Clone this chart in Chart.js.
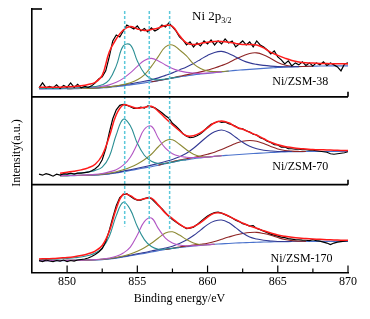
<!DOCTYPE html>
<html lang="en">
<head>
    <meta charset="UTF-8">
    <title>Ni 2p3/2 XPS</title>
    <script src="https://cdn.jsdelivr.net/npm/chart.js"></script>
    <style>
        body { margin: 0; background: #fff; }
        canvas { display: block; }
    </style>
</head>
<body>
    <canvas id="xps" width="370" height="319"></canvas>
    <script>
    // binding energy axis
    var xTickValues = [850, 855, 860, 865, 870];
    var xMinorTicks = [852.5, 857.5, 862.5, 867.5];
    var guideEnergies = [854.1, 855.85, 857.3];
    var guideEnds = [46, 48, 43];   // where the guides stop in the bottom panel
    var panelNames = ['Ni/ZSM-38', 'Ni/ZSM-70', 'Ni/ZSM-170'];

    // raw spectra, 848 -> 870 eV every 0.25 eV
    var p1Raw = [
        9, 14, 9, 10.5,  9, 12, 8.5, 11.5,  9.5, 14, 9.5, 12.5,  9, 10.5, 9.5, 11,
        14, 18, 20, 26,  40, 56, 62, 60,  66, 72, 70, 68,  71, 66, 68.5, 65,
        69, 66, 68, 72,  70, 74, 70, 66,  60, 57, 52, 55,  50, 54, 51, 56,
        53, 57, 52, 56,  53, 58, 54, 56,  50, 53, 56, 52,  55, 50, 56, 52,
        50, 47, 43, 46,  40, 37, 33, 36,  31, 34, 32, 35,  31.5, 34, 31, 34,
        32, 35, 31.5, 34,  32, 30, 26, 33,  34
    ];
    var p2Raw = [
        10.5, 9.5, 11, 10,  8.5, 10.5, 9.5, 11,  10.5, 11.5, 10.5, 11.5,  11.5, 12, 12.5, 14,
        16, 19, 25, 36,  52, 66, 75, 79.5,  80.5, 79.5, 78, 76.5,  76.5, 77.8, 76.8, 79,
        78, 77, 74.5, 72,  69, 66.5, 61.5, 58.5,  55, 51, 48.5, 47,  47.5, 49, 51, 54,
        57.5, 60.5, 61.8, 63.5,  62.5, 62.8, 61.2, 60,  58.5, 56, 56, 54,  52.8, 50.5, 49.8, 47,
        45.8, 43.5, 42.3, 40,  39.8, 37.6, 37.8, 36.2,  36, 35.5, 35.5, 35,  35, 34.5, 34.5, 34,
        33.5, 33, 32.5, 31,  30.5, 31, 31.5, 32,  33
    ];
    var p3Raw = [
        12, 11, 12.5, 11.5,  11, 12, 11.5, 12.5,  11, 12, 11.5, 12.5,  13, 13.5, 14.5, 16,
        18, 20.5, 24, 31,  42, 55, 67, 75,  78, 79, 76.5, 74,  72.5, 72.5, 74, 75,
        74, 70.5, 67, 64,  60, 56, 53, 50.5,  48, 46, 44, 44.5,  45.5, 48, 51, 54,
        56.5, 58.5, 60, 60.5,  59.5, 58, 56.5, 54.5,  52.5, 51, 49, 48,  46.5, 47, 44, 43,
        41.5, 40, 38.5, 37.5,  36.5, 35.5, 35, 34,  33.5, 33, 32.8, 32.5,  32.3, 32, 33, 32,
        31.5, 30.5, 29.5, 28,  29.5, 30.5, 31, 31.5,  32
    ];

    // fitted envelopes, backgrounds and components, every 0.5 eV
    var p1Fit = [9.5, 9.5, 9.5, 9.7, 10, 10.3, 11, 12.3, 14.5, 21.5, 45, 58, 67, 70.5, 68, 66.5, 67.5, 69, 71.5, 70.5,
        61.5, 54, 52.5, 53.5, 54.8, 55.5, 55.5, 54.8, 53.5, 52.5, 52.5, 52, 49, 44.5, 41.5, 38.8, 36.5, 35, 34.2, 33.8,
        33.5, 33.3, 33.2, 33.1, 33];
    var p1Bg = [8, 8, 8, 8, 8.1, 8.2, 8.3, 8.4, 8.6, 9, 9.5, 10.2, 11, 12, 13, 14, 15, 16.2, 17.5, 18.8,
        20, 21, 22, 22.8, 23.5, 24.3, 25, 25.8, 26.5, 27, 27.5, 28, 28.5, 29, 29.5, 29.8, 30, 30.3, 30.5, 30.7,
        30.9, 31, 31, 31, 31];
    var p1Teal = [8.3, 8.3, 8.4, 8.5, 8.7, 8.9, 9.2, 9.6, 10.3, 12, 17, 31, 51, 52, 36, 23.5, 18, 17, 17.8, 19, 20.1];
    var p1Purple = [8.2, 8.3, 8.4, 8.5, 8.7, 8.9, 9.1, 9.4, 9.8, 10.6, 12, 14.5, 18.5, 24, 30.5, 36.5, 38.5, 36, 32, 28.5,
        26, 24.5, 23.8, 23.5, 23.8, 24.4, 25.05];
    var p1Olive = [8.2, 8.3, 8.4, 8.5, 8.7, 9.3, 10, 11, 12.3, 14.2, 17.2, 22, 30.5, 40.5, 50, 52, 47, 41, 33, 28.5,
        26, 25.3, 25.4, 25.9];
    var p1Navy = [8.2, 8.3, 8.5, 8.7, 9, 9.5, 10.1, 10.8, 11.8, 13, 14.3, 15.6, 17, 19, 21.5, 24, 27, 30, 33.5, 37.5,
        41.5, 44.5, 45.5, 43.5, 40, 36.5, 34, 32.5, 31.5, 30.8, 30.3, 30.1, 30.1, 30.3];
    var p1DarkRed = [15.1, 16.3, 17.6, 19, 20.6, 22, 23.5, 25, 26.8, 28.8, 31.3, 34.2, 37.8, 41, 43.5, 44, 42, 38.5, 34.5, 31.8,
        30.6, 30.4, 30.5, 30.7];

    var p2Fit = [11.5, 12.5, 13.5, 14.8, 16.8, 20.5, 29.5, 48, 70, 80, 78.5, 76.5, 77.5, 78.5, 73.5, 66.5, 60, 54, 49, 49,
        52, 57, 62, 63.8, 62, 58, 55.5, 52.5, 49.5, 46, 42.5, 40, 38.3, 37.2, 36.3, 35.8, 35.3, 35, 34.8, 34.5,
        34.3, 34.2];
    var p2Bg = [9, 9, 9.1, 9.2, 9.4, 9.6, 10.1, 10.8, 11.8, 13, 14.2, 15.5, 16.8, 18, 19.5, 21, 22.5, 24, 25, 26,
        26.8, 27.5, 28.3, 29, 29.5, 30, 30.5, 31, 31.4, 31.8, 32.2, 32.5, 32.8, 33, 33.1, 33.2, 33.3, 33.3, 33.3, 33.3,
        33.3, 33.3];
    var p2Teal = [10.2, 10.5, 11, 11.8, 12.8, 14.3, 17.5, 28, 50, 65.5, 59, 41.5, 29.5, 23.5, 21.2, 21.3, 22.6, 24.1, 25.05];
    var p2Purple = [9.1, 9.2, 9.3, 9.5, 9.8, 10.3, 11.2, 12.8, 15, 19.5, 27.5, 41, 55.5, 58.5, 46.5, 36.5, 31, 28.5, 27.5, 27.2,
        27.2, 27.7, 28.4, 29.05];
    var p2Olive = [9.1, 9.1, 9.2, 9.3, 9.5, 9.9, 10.6, 11.6, 13, 15, 17.5, 20.8, 25, 30.5, 38, 44, 45, 40.5, 35, 30.5,
        28.3, 27.8, 28.4, 29.05];
    var p2Navy = [9.1, 9.1, 9.2, 9.4, 9.6, 9.9, 10.4, 11, 12.2, 13.6, 15, 16.5, 18, 19.6, 21.3, 23.2, 25.3, 28, 31.5, 36.5,
        42.5, 48.5, 53, 54.8, 52.5, 47.5, 42.5, 38.5, 36, 34.5, 33.8, 33.3, 33.2, 33.2];
    var p2DarkRed = [19.6, 21.5, 23, 24.8, 26, 27.3, 28.8, 30.5, 32.5, 35.2, 38.3, 41.3, 43.5, 44.2, 43.5, 41.2, 38.3, 35.8, 34.3, 33.6,
        33.3, 33.25];

    var p3Fit = [13.5, 13.8, 14, 14.5, 15, 15.8, 17, 18.8, 21.5, 27, 41, 64, 78.5, 77, 72.8, 74, 74.5, 67.5, 59.5, 54,
        48.5, 44.5, 46, 50, 55.5, 59.5, 59.5, 56.5, 53, 49.5, 46.5, 44.3, 41.8, 39.5, 37.5, 36.3, 35.3, 34.5, 34, 33.6,
        33.2, 32.9, 32.6, 32.4, 32.2];
    var p3Bg = [11.8, 11.8, 11.9, 11.9, 12, 12.1, 12.2, 12.3, 12.5, 12.9, 13.5, 14.4, 15.5, 16.7, 18, 19.2, 20.5, 21.8, 23, 24,
        25, 25.8, 26.5, 27.2, 27.8, 28.3, 28.7, 29.1, 29.5, 29.8, 30, 30.3, 30.5, 30.7, 30.8, 30.9, 31, 31.05, 31.1, 31.15,
        31.2, 31.2, 31.2, 31.2, 31.2];
    var p3Teal = [12.8, 13, 13.2, 13.6, 14, 14.7, 15.5, 17, 19.5, 24.5, 36, 57, 70.5, 63, 46, 33, 26, 23.3, 23.5, 24.2, 25.1];
    var p3Purple = [11.9, 11.9, 12, 12, 12.1, 12.2, 12.3, 12.5, 12.9, 13.5, 14.5, 16.2, 19.5, 25.5, 37.5, 51, 54.5, 44, 34.5, 29.5,
        27.5, 26.8, 26.8, 27.3, 27.9, 28.35];
    var p3Olive = [11.9, 11.9, 12, 12, 12.1, 12.2, 12.3, 12.4, 12.7, 13.2, 14, 15.1, 16.5, 18.5, 21.3, 24.8, 29.3, 34.5, 39.5, 40.8,
        37.5, 33, 29.5, 27.8, 27.9, 28.35];
    var p3Navy = [11.9, 11.9, 12, 12, 12.1, 12.2, 12.4, 12.6, 12.9, 13.3, 13.8, 14.8, 16, 17.3, 18.7, 20, 21.5, 22.9, 24.5, 26.4,
        29, 32.5, 37, 42.5, 48, 51.5, 52.6, 50, 45, 39.5, 35.5, 33.5, 32.3, 31.6, 31.1, 31, 31];
    var p3DarkRed = [23.1, 24.3, 25.5, 26.5, 27.5, 28.3, 29.3, 31, 33.3, 35.5, 37.5, 39, 40, 40.2, 39, 37.3, 35, 33, 31.9, 31.4,
        31.2];

    Chart.defaults.font.family = "'Liberation Serif', 'Times New Roman', serif";
    Chart.defaults.color = '#000';

    function pts(from, step, values) {
        return values.map(function (v, i) {
            return { x: from + i * step, y: v };
        });
    }

    function line(data, axis, color, width, order, tension) {
        return {
            data: data,
            yAxisID: axis,
            borderColor: color,
            borderWidth: width,
            order: order,
            tension: tension,
            fill: false,
            pointRadius: 0
        };
    }

    function panel(axis, raw, fit, fitFrom, bg, teal, tealFrom, purple, purpleFrom,
                   olive, oliveFrom, navy, navyFrom, darkRed, darkRedFrom) {
        return [
            line(pts(fitFrom, 0.5, fit), axis, '#ff1a1a', 1.5, 0, 0.4),
            line(pts(848, 0.25, raw), axis, '#000000', 1.2, 1, 0),
            line(pts(tealFrom, 0.5, teal), axis, '#2b8f94', 1.1, 2, 0.4),
            line(pts(purpleFrom, 0.5, purple), axis, '#b256c4', 1.1, 3, 0.4),
            line(pts(oliveFrom, 0.5, olive), axis, '#8d8a35', 1.1, 4, 0.4),
            line(pts(navyFrom, 0.5, navy), axis, '#333a94', 1.1, 5, 0.4),
            line(pts(darkRedFrom, 0.5, darkRed), axis, '#8e2424', 1.1, 6, 0.4),
            line(pts(fitFrom, 0.5, bg), axis, '#4a72cc', 1.1, 7, 0.4)
        ];
    }

    var datasets = [].concat(
        panel('y1', p1Raw, p1Fit, 848, p1Bg, p1Teal, 848, p1Purple, 848, p1Olive, 850, p1Navy, 850, p1DarkRed, 856),
        panel('y2', p2Raw, p2Fit, 849.5, p2Bg, p2Teal, 849.5, p2Purple, 849.5, p2Olive, 849.5, p2Navy, 849.5, p2DarkRed, 856.5),
        panel('y3', p3Raw, p3Fit, 848, p3Bg, p3Teal, 848, p3Purple, 848, p3Olive, 848, p3Navy, 848, p3DarkRed, 857)
    );

    function panelAxis() {
        return {
            type: 'linear',
            position: 'left',
            stack: 'panels',
            stackWeight: 1,
            min: 0,
            max: 88,
            ticks: { display: false },
            grid: { display: false, drawTicks: false },
            border: { display: true, color: '#000', width: 1.6 }
        };
    }

    var decor = {
        id: 'decor',
        afterDatasetsDraw: function (chart) {
            var ctx = chart.ctx, s = chart.scales;
            ctx.save();
            ctx.strokeStyle = '#5cc8da';
            ctx.lineWidth = 1.5;
            ctx.setLineDash([3, 2]);
            guideEnergies.forEach(function (e, i) {
                var px = s.x.getPixelForValue(e);
                ctx.beginPath();
                ctx.moveTo(px, s.y1.getPixelForValue(86));
                ctx.lineTo(px, s.y3.getPixelForValue(guideEnds[i]));
                ctx.stroke();
            });
            ctx.restore();
        },
        afterDraw: function (chart) {
            var ctx = chart.ctx, a = chart.chartArea, s = chart.scales;
            ctx.save();
            ctx.strokeStyle = '#000';
            ctx.lineWidth = 1.6;
            // panel separators with a tick at 870
            [s.y1, s.y2].forEach(function (ax) {
                ctx.beginPath();
                ctx.moveTo(a.left, ax.bottom);
                ctx.lineTo(a.right, ax.bottom);
                ctx.moveTo(a.right, ax.bottom);
                ctx.lineTo(a.right, ax.bottom - 5);
                ctx.stroke();
            });
            ctx.beginPath();
            ctx.moveTo(a.left, a.top);
            ctx.lineTo(a.left + 10, a.top);
            ctx.stroke();
            // inward ticks on the energy axis
            ctx.lineWidth = 1.2;
            xTickValues.concat(xMinorTicks).forEach(function (v) {
                var px = s.x.getPixelForValue(v);
                var len = xTickValues.indexOf(v) >= 0 ? 7 : 4;
                ctx.beginPath();
                ctx.moveTo(px, a.bottom);
                ctx.lineTo(px, a.bottom - len);
                ctx.stroke();
            });

            ctx.fillStyle = '#000';
            ctx.textBaseline = 'alphabetic';
            ctx.font = "13px 'Liberation Serif'";
            ctx.textAlign = 'left';
            var tx = s.x.getPixelForValue(858.9), ty = s.y1.getPixelForValue(76.5);
            ctx.fillText('Ni 2p', tx, ty);
            var w = ctx.measureText('Ni 2p').width;
            ctx.font = "8px 'Liberation Serif'";
            ctx.fillText('3/2', tx + w, ty + 2.5);

            ctx.font = "12px 'Liberation Serif'";
            ctx.textAlign = 'right';
            ctx.fillText(panelNames[0], s.x.getPixelForValue(868.6), s.y1.getPixelForValue(12));
            ctx.fillText(panelNames[1], s.x.getPixelForValue(868.6), s.y2.getPixelForValue(14.5));
            ctx.fillText(panelNames[2], s.x.getPixelForValue(868.9), s.y3.getPixelForValue(11));

            // axis title under the energy labels
            ctx.textAlign = 'center';
            ctx.textBaseline = 'middle';
            ctx.fillText('Binding energy/eV', s.x.getPixelForValue(858), a.bottom + 26.5);

            ctx.translate(17, 153);
            ctx.rotate(-Math.PI / 2);
            ctx.fillText('Intensity(a.u.)', 0, 0);
            ctx.restore();
        }
    };

    new Chart(document.getElementById('xps'), {
        type: 'line',
        data: { datasets: datasets },
        options: {
            responsive: false,
            animation: false,
            layout: { padding: { left: 32, right: 22, top: 9, bottom: 27.5 } },
            plugins: { legend: { display: false }, tooltip: { enabled: false } },
            scales: {
                x: {
                    type: 'linear',
                    min: 847.5,
                    max: 870,
                    afterBuildTicks: function (axis) {
                        axis.ticks = xTickValues.map(function (v) { return { value: v }; });
                    },
                    ticks: { font: { size: 12, lineHeight: 1 }, padding: 3.5, maxRotation: 0 },
                    grid: { display: false, drawTicks: false },
                    border: { display: true, color: '#000', width: 1.6 }
                },
                y3: panelAxis(),
                y2: panelAxis(),
                y1: panelAxis()
            }
        },
        plugins: [decor]
    });
    </script>
</body>
</html>
